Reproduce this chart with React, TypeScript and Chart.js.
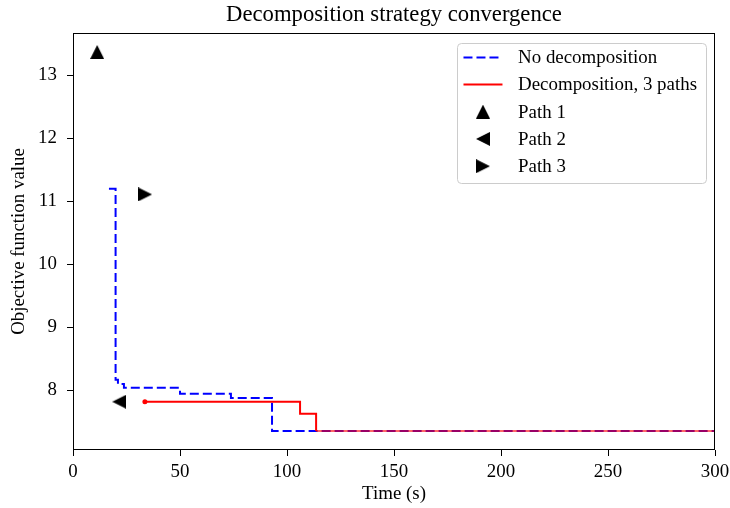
import React, { useEffect, useRef } from 'react';
import { Chart, registerables } from 'chart.js';

Chart.register(...registerables);

// ---- data ----
const noDecompTime = [16.8, 19.9, 21.0, 23.8, 50.0, 73.8, 93.0, 300];
const noDecompValue = [11.2, 8.17, 8.1, 8.04, 7.945, 7.88, 7.355, 7.355];
const decompTime = [33.6, 106.1, 113.6, 300];
const decompValue = [7.82, 7.63, 7.355, 7.355];
const pathLabels = ['Path 1', 'Path 2', 'Path 3'];
const pathTime = [11.3, 21.6, 33.7];
const pathValue = [13.37, 7.82, 11.11];
const pathDirections = ['up', 'left', 'right'];
const xTicks = [0, 50, 100, 150, 200, 250, 300];
const yTicks = [8, 9, 10, 11, 12, 13];
const titleText = 'Decomposition strategy convergence';
const xTitle = 'Time (s)';
const yTitle = 'Objective function value';
const seriesLabels = ['No decomposition', 'Decomposition, 3 paths'];

const FAMILY = '"Liberation Serif", "Times New Roman", Times, serif';
const FS = 18.9;

function makeTriangle(dir: string, w: number, h: number): HTMLCanvasElement {
  const c = document.createElement('canvas');
  c.width = w;
  c.height = h;
  const ctx = c.getContext('2d')!;
  ctx.fillStyle = '#000';
  ctx.beginPath();
  if (dir === 'up') {
    ctx.moveTo(w / 2, 0);
    ctx.lineTo(w, h);
    ctx.lineTo(0, h);
  } else if (dir === 'left') {
    ctx.moveTo(0, h / 2);
    ctx.lineTo(w, 0);
    ctx.lineTo(w, h);
  } else {
    ctx.moveTo(w, h / 2);
    ctx.lineTo(0, 0);
    ctx.lineTo(0, h);
  }
  ctx.closePath();
  ctx.fill();
  return c;
}

const framePlugin = {
  id: 'frame',
  afterDatasetsDraw(chart: any) {
    const { ctx, chartArea } = chart;
    ctx.save();
    ctx.strokeStyle = '#000';
    ctx.lineWidth = 1;
    const l = Math.round(chartArea.left) + 0.5;
    const r = Math.round(chartArea.right) - 0.5;
    const t = Math.round(chartArea.top) + 0.5;
    const b = Math.round(chartArea.bottom) - 0.5;
    ctx.strokeRect(l, t, r - l, b - t);
    ctx.restore();
  },
};

const titlePlugin = {
  id: 'mplTitle',
  afterDraw(chart: any) {
    const { ctx, chartArea } = chart;
    ctx.save();
    ctx.font = `${FS * 1.2}px ${FAMILY}`;
    ctx.fillStyle = '#000';
    ctx.textAlign = 'center';
    ctx.textBaseline = 'alphabetic';
    ctx.fillText(titleText, (chartArea.left + chartArea.right) / 2, chartArea.top - 12);
    ctx.restore();
  },
};

const legendPlugin = {
  id: 'boxLegend',
  afterDraw(chart: any) {
    const { ctx, chartArea } = chart;
    const ds = chart.data.datasets;
    ctx.save();
    ctx.font = `${FS}px ${FAMILY}`;
    const textW = Math.max(...ds.map((d: any) => ctx.measureText(d.label).width));
    const padX = 6.7;
    const handleW = 39;
    const gap = 15.6;
    const padR = 9;
    const rowH = 27.3;
    const boxW = padX + handleW + gap + textW + padR;
    const boxH = rowH * ds.length + 3.5;
    const x0 = chartArea.right - 9 - boxW;
    const y0 = chartArea.top + 9.5;
    ctx.beginPath();
    ctx.roundRect(Math.round(x0) + 0.5, Math.round(y0) + 0.5, Math.round(boxW), Math.round(boxH), 4);
    ctx.fillStyle = 'rgba(255,255,255,0.8)';
    ctx.fill();
    ctx.strokeStyle = '#cccccc';
    ctx.lineWidth = 1;
    ctx.stroke();
    ds.forEach((d: any, i: number) => {
      const cy = y0 + 14.5 + i * rowH;
      if (d.showLine === false) {
        const img = d.pointStyle as HTMLCanvasElement;
        ctx.drawImage(img, x0 + padX + handleW / 2 - img.width / 2, cy - img.height / 2);
      } else {
        ctx.save();
        ctx.strokeStyle = d.borderColor;
        ctx.lineWidth = d.borderWidth;
        ctx.setLineDash(d.borderDash || []);
        ctx.beginPath();
        ctx.moveTo(x0 + padX, Math.round(cy) + 0.5);
        ctx.lineTo(x0 + padX + handleW, Math.round(cy) + 0.5);
        ctx.stroke();
        ctx.restore();
      }
      ctx.fillStyle = '#000';
      ctx.textAlign = 'left';
      ctx.textBaseline = 'middle';
      ctx.fillText(d.label, x0 + padX + handleW + gap, cy + 1);
    });
    ctx.restore();
  },
};

export default function App() {
  const ref = useRef<HTMLCanvasElement | null>(null);

  useEffect(() => {
    const prevMargin = document.body.style.margin;
    document.body.style.margin = '0';
    const allY = [...noDecompValue, ...decompValue, ...pathValue];
    const lo = Math.min(...allY);
    const hi = Math.max(...allY);
    const m = (hi - lo) * 0.05;
    const font = { family: FAMILY, size: FS };

    const markerDatasets = pathLabels.map((label, i) => ({
      label,
      data: [{ x: pathTime[i], y: pathValue[i] }],
      showLine: false,
      pointStyle: makeTriangle(pathDirections[i], 14, 14),
      pointRadius: 7,
      order: 0,
    }));

    const chart = new Chart(ref.current!, {
      type: 'line',
      data: {
        datasets: [
          {
            label: seriesLabels[0],
            data: noDecompTime.map((x, i) => ({ x, y: noDecompValue[i] })),
            borderColor: '#0000ff',
            borderWidth: 2,
            borderDash: [9, 4],
            stepped: 'before',
            pointRadius: 0,
            fill: false,
            order: 2,
          },
          {
            label: seriesLabels[1],
            data: decompTime.map((x, i) => ({ x, y: decompValue[i] })),
            borderColor: '#ff0000',
            borderWidth: 2,
            stepped: 'before',
            pointRadius: (c: any) => (c.dataIndex === 0 ? 2.5 : 0),
            pointBackgroundColor: '#ff0000',
            pointBorderWidth: 0,
            fill: false,
            segment: {
              borderColor: (c: any) => (c.p0DataIndex >= decompTime.length - 2 ? 'rgba(255,0,0,0.6)' : undefined),
            },
            order: 1,
          },
          ...markerDatasets,
        ] as any,
      },
      options: {
        animation: false,
        responsive: false,
        events: [],
        layout: { padding: { left: 0, right: 15, top: 33, bottom: 0 } },
        plugins: {
          legend: { display: false },
          tooltip: { enabled: false },
          title: { display: false },
        },
        scales: {
          x: {
            type: 'linear',
            min: 0,
            max: 300,
            afterBuildTicks: (s: any) => {
              s.ticks = xTicks.map((v) => ({ value: v }));
            },
            afterFit: (s: any) => {
              s.height = 58;
              s.paddingLeft = 0;
              s.paddingRight = 0;
            },
            grid: { drawOnChartArea: false, drawTicks: true, tickLength: 6, tickColor: '#000', tickWidth: 1 },
            border: { display: false },
            ticks: { color: '#000', font, padding: 5, maxRotation: 0, autoSkip: false },
            title: { display: true, text: xTitle, color: '#000', font, padding: { top: 0, bottom: 3 } },
          },
          y: {
            type: 'linear',
            min: lo - m,
            max: hi + m,
            afterBuildTicks: (s: any) => {
              s.ticks = yTicks.map((v) => ({ value: v }));
            },
            afterFit: (s: any) => {
              s.width = 73;
              s.paddingTop = 0;
              s.paddingBottom = 0;
            },
            grid: { drawOnChartArea: false, drawTicks: true, tickLength: 6, tickColor: '#000', tickWidth: 1 },
            border: { display: false },
            ticks: { color: '#000', font, padding: 10 },
            title: { display: true, text: yTitle, color: '#000', font, padding: { top: 7.5, bottom: 0 } },
          },
        },
      } as any,
      plugins: [framePlugin, titlePlugin, legendPlugin],
    });

    return () => {
      chart.destroy();
      document.body.style.margin = prevMargin;
    };
  }, []);

  return (
    <div style={{ position: 'fixed', left: 0, top: 0, width: 730, height: 508, background: '#fff' }}>
      <canvas ref={ref} width={730} height={508} style={{ display: 'block', width: 730, height: 508 }} />
    </div>
  );
}
